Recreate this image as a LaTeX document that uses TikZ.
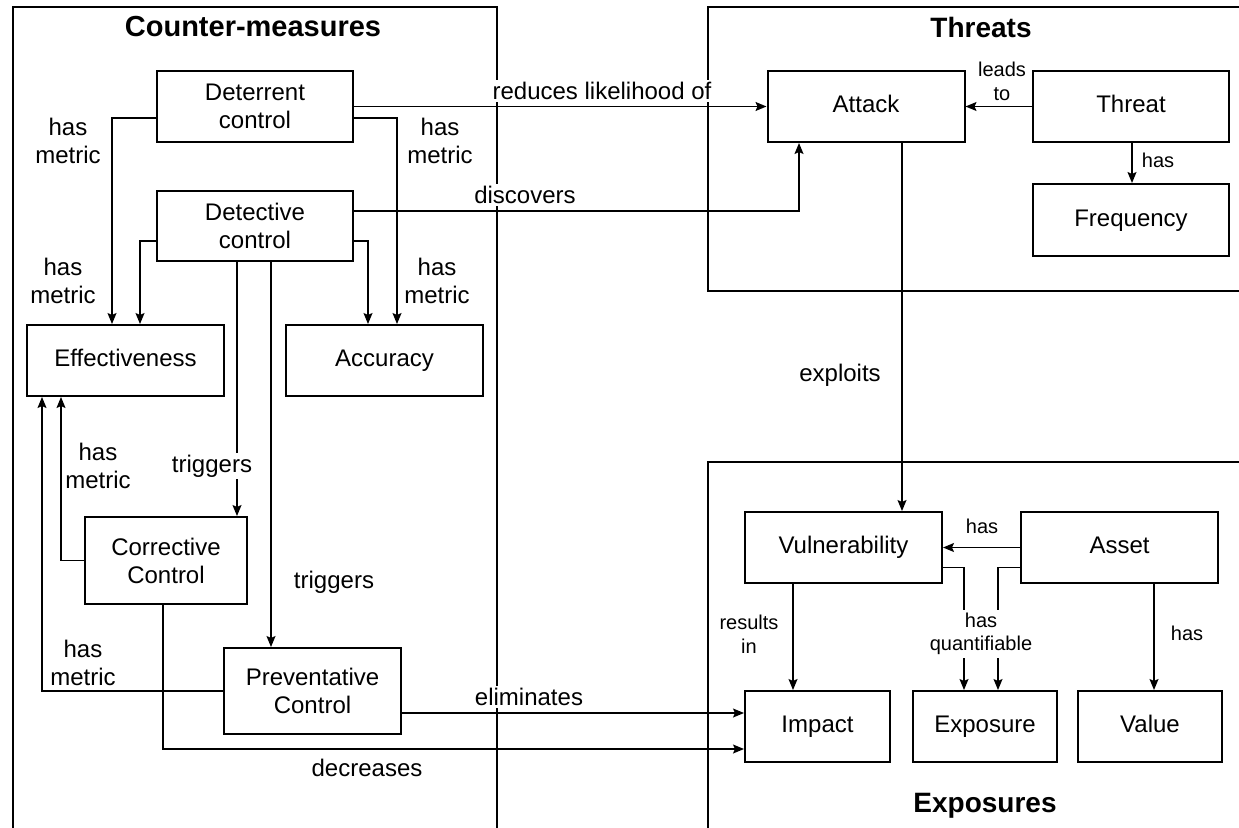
\documentclass[tikz,border=0pt]{standalone}
\usepackage{fontspec}
\setmainfont{Liberation Sans}
\usetikzlibrary{arrows.meta}
\begin{document}
\begin{tikzpicture}[x=1pt,y=-1pt,
  box/.style={draw, line width=2pt, align=center, inner sep=0pt, font=\fontsize{24}{28}\selectfont},
  one/.style={text height=17.5pt, text depth=5pt},
  frame/.style={draw, line width=2.2pt},
  arr/.style={line width=1.3pt, -{Stealth[length=11pt,width=9pt,inset=2pt]}},
  lbl/.style={align=center, inner sep=1pt, font=\fontsize{24}{28}\selectfont},
  wlbl/.style={lbl, fill=white, inner sep=2pt},
  slbl/.style={align=center, inner sep=1pt, font=\fontsize{20}{23.5}\selectfont},
  ttl/.style={font=\bfseries\fontsize{28}{32}\selectfont, inner sep=0pt}]
\useasboundingbox (0,0) rectangle (1239,827);
\clip (0,0) rectangle (1239,827);

% frames
\draw[frame] (13,7) rectangle (497,850);
\draw[frame] (708,7) rectangle (1260,291);
\draw[frame] (708,462) rectangle (1260,850);
\node[ttl, font=\bfseries\fontsize{29}{32}\selectfont] (tcm) at (253,27) {Counter-measures};
\node[ttl] (tth) at (981,27) {Threats};
\node[ttl] (tex) at (985,806) {Exposures};

% boxes
\node[box, minimum width=196pt, minimum height=71pt] (det) at (255,106.5) {Deterrent\\control};
\node[box, minimum width=196pt, minimum height=70pt] (dtc) at (255,226) {Detective\\control};
\node[box, one, minimum width=197pt, minimum height=71pt] (eff) at (125.5,360.5) {Effectiveness};
\node[box, one, minimum width=197pt, minimum height=71pt] (acc) at (384.5,360.5) {Accuracy};
\node[box, minimum width=162pt, minimum height=87pt] (cor) at (166,560.5) {Corrective\\Control};
\node[box, minimum width=177pt, minimum height=86pt] (pre) at (312.5,691) {Preventative\\Control};

\node[box, one, minimum width=197pt, minimum height=71pt] (att) at (866,106.5) {Attack};
\node[box, one, minimum width=196pt, minimum height=71pt] (thr) at (1131,106.5) {Threat};
\node[box, one, minimum width=196pt, minimum height=72pt] (frq) at (1131,220) {Frequency};

\node[box, one, minimum width=197pt, minimum height=71pt] (vul) at (843.5,547.5) {Vulnerability};
\node[box, one, minimum width=197pt, minimum height=71pt] (ast) at (1119.5,547.5) {Asset};
\node[box, one, minimum width=145pt, minimum height=71pt] (imp) at (817.5,726.5) {Impact};
\node[box, one, minimum width=144pt, minimum height=71pt] (exs) at (985,726.5) {Exposure};
\node[box, one, minimum width=144pt, minimum height=71pt] (val) at (1150,726.5) {Value};

% connectors
\draw[arr] (det.east) -- (att.west);
\node[wlbl] (l1) at (602,91) {reduces likelihood of};

\draw[arr] ([yshift=15pt]dtc.east) -| ([xshift=-67pt]att.south);
\node[wlbl] (l2) at (525,195) {discovers};

\draw[arr] (thr.west) -- (att.east);
\node[slbl] (l3) at (1002,81.5) {leads\\to};

\draw[arr] ([xshift=1pt]thr.south) -- ([xshift=1pt]frq.north);
\node[slbl] (l4) at (1158,160) {has};

\draw[arr] ([xshift=36pt]att.south) -- ([xshift=58.5pt]vul.north);
\node[lbl] (l5) at (840,375) {exploits};

\draw[arr] (ast.west) -- (vul.east);
\node[slbl] (l6) at (982,526) {has};

\draw[arr] ([yshift=-20pt]vul.east) -| ([xshift=-21pt]exs.north);
\draw[arr] ([yshift=-20pt]ast.west) -| ([xshift=13pt]exs.north);
\node[slbl, fill=white, inner sep=3pt] (l7) at (981,634) {has\\quantifiable};

\draw[arr] ([xshift=-50.5pt]vul.south) -- ([xshift=-24.5pt]imp.north);
\node[slbl] (l8) at (749,634) {results\\in};

\draw[arr] ([xshift=34.5pt]ast.south) -- ([xshift=4pt]val.north);
\node[slbl] (l9) at (1187,633) {has};

\draw[arr] ([yshift=-11.5pt]det.west) -| ([xshift=-13.5pt]eff.north);
\node[lbl] (l10) at (68,141) {has\\metric};
\draw[arr] ([yshift=-11.5pt]det.east) -| ([xshift=12.5pt]acc.north);
\node[lbl] (l11) at (440,141) {has\\metric};

\draw[arr] ([yshift=-15pt]dtc.west) -| ([xshift=14.5pt]eff.north);
\node[lbl] (l12) at (63,281) {has\\metric};
\draw[arr] ([yshift=-15pt]dtc.east) -| ([xshift=-16.5pt]acc.north);
\node[lbl] (l13) at (437,281) {has\\metric};

\draw[arr] ([xshift=-18pt]dtc.south) -- ([xshift=71pt]cor.north);
\node[wlbl] (l14) at (212,466) {triggers};
\draw[arr] ([xshift=16pt]dtc.south) -- ([xshift=-41.5pt]pre.north);
\node[lbl] (l15) at (334,582) {triggers};

\draw[arr] (cor.west) -| ([xshift=-64.5pt]eff.south);
\node[lbl] (l16) at (98,465.5) {has\\metric};
\draw[arr] (pre.west) -| ([xshift=-83.5pt]eff.south);
\node[lbl] (l17) at (83,663) {has\\metric};

\draw[arr] ([xshift=-3pt]cor.south) |- ([yshift=-22.5pt]imp.west);
\node[lbl] (l18) at (367,768) {decreases};
\draw[arr] ([yshift=-22pt]pre.east) -- ([yshift=13.5pt]imp.west);
\node[wlbl] (l19) at (529,697) {eliminates};
\end{tikzpicture}
\end{document}
